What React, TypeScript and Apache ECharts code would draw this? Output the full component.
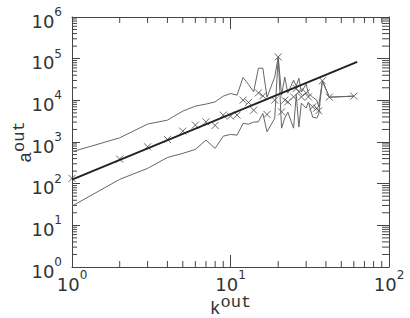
import React, { useEffect, useRef } from "react";
import * as echarts from "echarts";

// k^out values of the sampled points
const kValues = [1, 2, 3, 4, 5, 6, 7, 8, 9, 10, 11, 12, 13, 14, 15, 16, 17, 19, 20, 21, 22, 23, 25, 26, 27, 28, 30, 31, 33, 35, 36, 38, 42, 60];
// mean a^out (crosses)
const meanValues = [134, 389, 767, 1155, 1826, 2541, 3050, 2500, 4420, 4180, 4420, 10100, 8910, 5820, 15100, 12800, 4590, 10100, 110000, 5300, 10100, 9200, 12100, 19300, 16000, 12100, 15100, 12100, 6980, 6500, 5600, 29400, 11900, 12600];
// upper envelope
const upperValues = [582, 1260, 2690, 3350, 5510, 7260, 8110, 9200, 12600, 14600, 13300, 35400, 24000, 16000, 59000, 59000, 11900, 36000, 110000, 13300, 36000, 14900, 30500, 21900, 34000, 15700, 24400, 14900, 11900, 10100, 7260, 29400, 11900, 12600];
// lower envelope
const lowerValues = [29, 127, 233, 426, 533, 665, 1110, 703, 1380, 1520, 1460, 2790, 2690, 3000, 3050, 4850, 1760, 3680, 110000, 2150, 3740, 5210, 2150, 13300, 2280, 8570, 6500, 9060, 3960, 3740, 4670, 29400, 11900, 12600];
// power-law fit end points
const fitK = [1, 63];
const fitA = [125, 83500];

// axis ranges / ticks
const xMin = 1;
const xMax = 100;
const yMin = 1;
const yMax = 1e6;
const xMinorTicks = [2, 3, 4, 5, 6, 7, 8, 9, 20, 30, 40, 50, 60, 70, 80, 90];
const yMinorMantissas = [2, 3, 4, 5, 6, 7, 8, 9];
const yDecades = [1, 10, 100, 1000, 10000, 100000];

export default function App() {
  const ref = useRef<HTMLDivElement>(null);

  useEffect(() => {
    const chart = echarts.init(ref.current!, null, { renderer: "svg" });
    const numFont = "DejaVu Sans";
    const monoFont = "Liberation Mono";
    const axisColor = "#444";
    const textColor = "#333";

    const yMinorTicks: number[] = [];
    yDecades.forEach((d) => yMinorMantissas.forEach((m) => yMinorTicks.push(d * m)));

    const fmt = (v: number) => `{b|10}{s|${Math.round(Math.log10(v))}}`;
    const labelRich = {
      b: { fontSize: 18, fontFamily: numFont, color: textColor, lineHeight: 30 },
      s: { fontSize: 12, fontFamily: numFont, color: textColor, verticalAlign: "top", lineHeight: 8 },
    };
    const nameRich = {
      k: { fontSize: 18, fontFamily: monoFont, color: textColor, lineHeight: 30 },
      o: { fontSize: 17, fontFamily: monoFont, color: textColor, verticalAlign: "top", lineHeight: 10 },
    };

    const pairs = (xs: number[], ys: number[]) => xs.map((x, i) => [x, ys[i]]);

    const baseX = {
      type: "log",
      logBase: 10,
      min: xMin,
      max: xMax,
      splitNumber: 2,
      splitLine: { show: false },
      axisLine: { show: true, lineStyle: { color: axisColor, width: 1 } },
      axisTick: { show: true, inside: true, length: 12, lineStyle: { color: axisColor } },
    };
    const baseY = {
      type: "log",
      logBase: 10,
      min: yMin,
      max: yMax,
      splitNumber: 6,
      splitLine: { show: false },
      axisLine: { show: true, lineStyle: { color: axisColor, width: 1 } },
      axisTick: { show: true, inside: true, length: 8, lineStyle: { color: axisColor } },
    };

    chart.setOption({
      animation: false,
      grid: { left: 72, right: 21, top: 17, bottom: 51, containLabel: false, outerBoundsMode: "none" },
      xAxis: [
        {
          ...baseX,
          position: "bottom",
          axisLabel: { formatter: fmt, rich: labelRich, margin: 2 },
          name: "{k|k}{o|out}",
          nameLocation: "middle",
          nameGap: 27,
          nameMoveOverlap: false,
          nameTextStyle: { rich: nameRich },
        },
        { ...baseX, position: "top", axisLabel: { show: false } },
      ],
      yAxis: [
        {
          ...baseY,
          position: "left",
          axisLabel: { formatter: fmt, rich: labelRich, margin: 10, padding: [8, 0, 0, 0] },
          name: "{k|a}{o|out}",
          nameLocation: "middle",
          nameRotate: 90,
          nameGap: 31,
          nameMoveOverlap: false,
          nameTextStyle: { rich: nameRich },
        },
        {
          ...baseY,
          position: "right",
          axisLabel: { show: false },
          axisTick: { show: true, inside: true, length: 12, lineStyle: { color: axisColor } },
        },
      ],
      series: [
        {
          type: "custom",
          silent: true,
          clip: false,
          data: xMinorTicks.map((v) => [v, yMin]),
          renderItem: (_p: any, api: any) => {
            const v = api.value(0);
            const b = api.coord([v, yMin]);
            const t = api.coord([v, yMax]);
            return {
              type: "group",
              children: [
                { type: "line", shape: { x1: b[0], y1: b[1], x2: b[0], y2: b[1] - 6 }, style: { stroke: axisColor, lineWidth: 1 } },
                { type: "line", shape: { x1: t[0], y1: t[1], x2: t[0], y2: t[1] + 6 }, style: { stroke: axisColor, lineWidth: 1 } },
              ],
            };
          },
        },
        {
          type: "custom",
          silent: true,
          clip: false,
          data: yMinorTicks.map((v) => [xMin, v]),
          renderItem: (_p: any, api: any) => {
            const v = api.value(1);
            const l = api.coord([xMin, v]);
            const r = api.coord([xMax, v]);
            return {
              type: "group",
              children: [
                { type: "line", shape: { x1: l[0], y1: l[1], x2: l[0] + 5, y2: l[1] }, style: { stroke: axisColor, lineWidth: 1 } },
                { type: "line", shape: { x1: r[0], y1: r[1], x2: r[0] - 7, y2: r[1] }, style: { stroke: axisColor, lineWidth: 1 } },
              ],
            };
          },
        },
        {
          type: "line",
          data: pairs(kValues, upperValues),
          symbol: "none",
          lineStyle: { color: "#666", width: 1 },
          silent: true,
        },
        {
          type: "line",
          data: pairs(kValues, lowerValues),
          symbol: "none",
          lineStyle: { color: "#666", width: 1 },
          silent: true,
        },
        {
          type: "line",
          data: pairs(fitK, fitA),
          symbol: "none",
          lineStyle: { color: "#222", width: 2 },
          silent: true,
        },
        {
          type: "scatter",
          data: pairs(kValues, meanValues),
          symbol: "path://M0,0L10,10M10,0L0,10",
          symbolSize: 7,
          itemStyle: { color: "none", borderColor: "#444", borderWidth: 1 },
          silent: true,
        },
      ],
    });

    return () => chart.dispose();
  }, []);

  return <div ref={ref} style={{ position: "absolute", left: 0, top: 0, width: 410, height: 318 }} />;
}
